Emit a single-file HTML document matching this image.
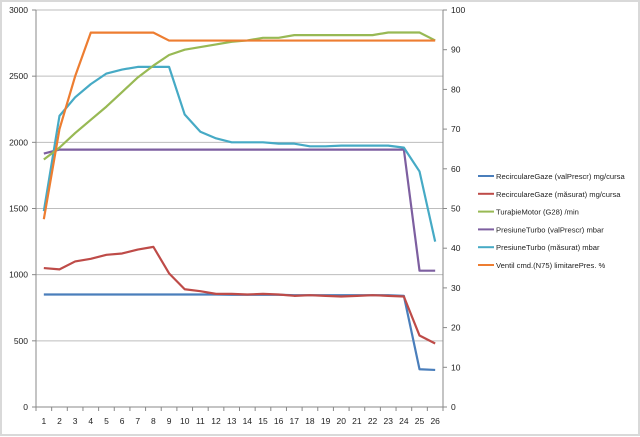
<!DOCTYPE html>
<html><head><meta charset="utf-8"><style>
html,body{margin:0;padding:0;background:#fff}
svg{display:block;font-family:"Liberation Sans",sans-serif}
</style></head><body>
<svg id="c" width="640" height="437"></svg>
<script>
const categories=[1,2,3,4,5,6,7,8,9,10,11,12,13,14,15,16,17,18,19,20,21,22,23,24,25,26];
const leftTicks=[0,500,1000,1500,2000,2500,3000];
const rightTicks=[0,10,20,30,40,50,60,70,80,90,100];
const recircPrescr=[850,850,850,850,850,850,850,850,850,850,850,850,848,848,848,848,845,845,845,845,845,845,845,840,285,280];
const recircMasurat=[1050,1040,1100,1120,1150,1160,1190,1210,1010,890,875,855,855,850,855,850,840,845,840,835,840,845,840,835,540,480];
const turatie=[1870,1960,2070,2170,2270,2380,2490,2580,2660,2700,2720,2740,2760,2770,2790,2790,2810,2810,2810,2810,2810,2810,2830,2830,2830,2770];
const turboPrescr=[1915,1945,1945,1945,1945,1945,1945,1945,1945,1945,1945,1945,1945,1945,1945,1945,1945,1945,1945,1945,1945,1945,1945,1945,1030,1030];
const turboMasurat=[1480,2200,2340,2440,2520,2550,2570,2570,2570,2210,2080,2030,2000,2000,2000,1990,1990,1970,1970,1975,1975,1975,1975,1960,1780,1250];
const ventilPct=[47.3,70,83.3,94.3,94.3,94.3,94.3,94.3,92.3,92.3,92.3,92.3,92.3,92.3,92.3,92.3,92.3,92.3,92.3,92.3,92.3,92.3,92.3,92.3,92.3,92.3];
const seriesNames=["RecirculareGaze (valPrescr)  mg/cursa","RecirculareGaze (măsurat)  mg/cursa","TuraþieMotor (G28)  /min","PresiuneTurbo (valPrescr)  mbar","PresiuneTurbo (măsurat)  mbar","Ventil cmd.(N75) limitarePres.  %"];

const svg=document.getElementById('c');const NS='http://www.w3.org/2000/svg';
function mk(t,a,p){const e=document.createElementNS(NS,t);for(const k in a)e.setAttribute(k,a[k]);(p||svg).appendChild(e);return e;}
const L=36,R=443,T=10,B=407;
const n=categories.length,step=(R-L)/n;
const xs=i=>L+step*(i+0.5);
const yL=v=>B-(v/3000)*(B-T);
const yR=v=>B-(v/100)*(B-T);
const frame=mk('rect',{x:1,y:1,width:638,height:434,fill:'#fff',stroke:'#d9d9d9','stroke-width':2});

leftTicks.forEach(v=>{
 if(v>0){const g=mk('line',{x1:L,x2:R,y1:yL(v),y2:yL(v),stroke:'#bdbdbd','stroke-width':1});
 }
 const t=mk('text',{x:L-8,y:yL(v)+3,'text-anchor':'end','font-size':8.5,fill:'#222'});t.textContent=v;
 
 mk('line',{x1:L-4,x2:L,y1:yL(v),y2:yL(v),stroke:'#888'});
});
rightTicks.forEach(v=>{
 const t=mk('text',{x:R+8,y:yR(v)+3,'font-size':8.5,fill:'#222'});t.textContent=v;
 
 mk('line',{x1:R,x2:R+4,y1:yR(v),y2:yR(v),stroke:'#888'});
});
const ax=mk('line',{x1:L,x2:L,y1:T,y2:B,stroke:'#888'});
const ax2=mk('line',{x1:R,x2:R,y1:T,y2:B,stroke:'#888'});
const ax3=mk('line',{x1:L,x2:R,y1:B,y2:B,stroke:'#888'});
categories.forEach((c,i)=>{
 mk('line',{x1:L+step*i,x2:L+step*i,y1:B,y2:B+4,stroke:'#888'});
 const t=mk('text',{x:xs(i),y:424,'text-anchor':'middle','font-size':8.5,fill:'#222'});t.textContent=c;
 
});
mk('line',{x1:R,x2:R,y1:B,y2:B+4,stroke:'#888'});
const series=[
 {d:recircPrescr,c:'#4a7ebb',y:yL,n:'series-recirc-prescr'},
 {d:recircMasurat,c:'#be4b48',y:yL,n:'series-recirc-masurat'},
 {d:turatie,c:'#98b954',y:yL,n:'series-turatie'},
 {d:turboPrescr,c:'#7d5fa0',y:yL,n:'series-turbo-prescr'},
 {d:turboMasurat,c:'#46aac5',y:yL,n:'series-turbo-masurat'},
 {d:ventilPct,c:'#ed7d31',y:yR,n:'series-ventil'}];
const draw=[0,1,3,4,2,5];
draw.forEach(k=>{const s=series[k];
 const p=mk('polyline',{points:s.d.map((v,i)=>xs(i)+','+s.y(v)).join(' '),fill:'none',stroke:s.c,'stroke-width':2.2,'stroke-linejoin':'round'});
 
});
seriesNames.forEach((nm,i)=>{const y=176+i*17.8;
 const g=mk('g',{});
 mk('line',{x1:478,x2:494,y1:y,y2:y,stroke:series[i].c,'stroke-width':2},g);
 const t=mk('text',{x:496,y:y+3,'font-size':7.6,fill:'#222'},g);t.textContent=nm;
});
</script>
</body></html>
